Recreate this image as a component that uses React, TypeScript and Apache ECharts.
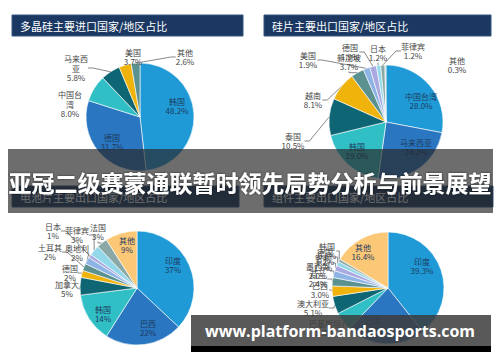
import React, { useEffect, useRef } from 'react';
import * as echarts from 'echarts';

// ---- texts ----
const panelTitles = [
  '多晶硅主要进口国家/地区占比',
  '硅片主要出口国家/地区占比',
  '电池片主要出口国家/地区占比',
  '组件主要出口国家/地区占比',
];
const bannerTitle = '亚冠二级赛蒙通联暂时领先局势分析与前景展望';
const watermarkText = 'www.platform-bandaosports.com';

// ---- data ----
const polyNames = ['韩国', '德国', '中国台湾', '马来西亚', '美国', '其他'];
const polyValues = [48.2, 31.7, 8.0, 5.8, 3.7, 2.6];

const waferNames = ['中国台湾', '马来西亚', '韩国', '泰国', '越南', '新加坡', '美国', '德国', '日本', '菲律宾', '其他'];
const waferValues = [28.0, 24.2, 19.0, 10.5, 8.1, 3.7, 1.9, 1.9, 1.2, 1.2, 0.3];

const cellNames = ['印度', '巴西', '韩国', '加拿大', '德国', '土耳其', '奥地利', '日本', '菲律宾', '法国', '其他'];
const cellValues = [37, 22, 14, 5, 2, 2, 2, 1, 3, 3, 9];

const moduleNames = ['印度', '日本', '巴基斯坦', '澳大利亚', '巴西', '荷兰', '墨西哥', '智利', '德国', '韩国', '其他'];
const moduleValues = [39.3, 22.9, 5.3, 5.1, 3.0, 2.4, 2.0, 1.6, 1.2, 0.8, 16.4];

// ---- label placement (layout only) ----
const polyLabelPos: Record<string, [number, number]> = {
  韩国: [177, 106], 德国: [112, 142], 中国台湾: [70, 104], 马来西亚: [76, 68], 美国: [133, 57], 其他: [185, 57],
};
const waferLabelPos: Record<string, [number, number]> = {
  中国台湾: [421, 101], 马来西亚: [416, 147], 韩国: [357, 151], 泰国: [293, 141], 越南: [313, 100],
  新加坡: [349, 62], 美国: [308, 60], 德国: [350, 52], 日本: [378, 53], 菲律宾: [413, 51], 其他: [457, 65],
};
const cellLabelPos: Record<string, [number, number]> = {
  印度: [173, 265], 巴西: [148, 328], 韩国: [103, 314], 其他: [127, 245], 加拿大: [67, 289], 德国: [70, 273],
  土耳其: [50, 252], 奥地利: [77, 253], 日本: [53, 231], 菲律宾: [77, 235], 法国: [98, 232],
};
const moduleLabelPos: Record<string, [number, number]> = {
  印度: [422, 266], 日本: [373, 325], 其他: [363, 252], 巴基斯坦: [325, 328], 澳大利亚: [313, 308],
  巴西: [320, 290], 荷兰: [318, 279], 墨西哥: [318, 271], 智利: [323, 263], 德国: [325, 257], 韩国: [327, 251],
};

// ---- styles ----
const LB = '#1f9ad6';
const MB = '#2a76c0';
const TC = '#31bfc6';
const DT = '#0e6675';
const YE = '#efb30c';
const GT = '#5b918f';
const PW = '#8db4e4';
const LV = '#aaa8e0';
const LC = '#93d8ea';
const GR = '#8aa9a6';
const PE = '#fbc878';
const GL = '#b5cfcc';

const FONT = '"Noto Sans CJK SC", "Noto Sans", sans-serif';

function wrap3(name: string) {
  if (name.length <= 3) return name;
  return name.slice(0, 3) + '\n' + name.slice(3);
}

function pieSeries(
  names: string[],
  values: number[],
  colors: string[],
  center: [number, number],
  radius: number,
  insideNames: string[],
  decimals: number,
  wrapOutside: boolean,
  labelPos: Record<string, [number, number]>,
  noLineNames: string[]
) {
  return {
    type: 'pie',
    center,
    radius,
    startAngle: 90,
    clockwise: true,
    avoidLabelOverlap: false,
    itemStyle: { borderColor: '#ffffff', borderWidth: 0.6 },
    labelLine: { length: 6, length2: 5, lineStyle: { color: '#6a6a6a', width: 0.8 } },
    label: {
      fontSize: 8,
      lineHeight: 9.5,
      fontFamily: FONT,
      color: '#454545',
    },
    labelLayout: (params: any) => {
      const p = labelPos[names[params.dataIndex]];
      if (!p) return {};
      return { x: p[0], y: p[1], align: 'center', verticalAlign: 'middle' };
    },
    data: names.map((n, i) => {
      const inside = insideNames.indexOf(n) >= 0;
      const pct = values[i].toFixed(decimals) + '%';
      const shownName = !inside && wrapOutside ? wrap3(n) : n;
      return {
        name: n,
        value: values[i],
        itemStyle: { color: colors[i] },
        label: inside
          ? { position: 'inside', color: '#1d3a5e', formatter: `${shownName}\n${pct}` }
          : { position: 'outside', formatter: `${shownName}\n${pct}` },
        labelLine: { show: !inside && noLineNames.indexOf(n) < 0 },
      };
    }),
  };
}

export default function App() {
  const ref = useRef<HTMLDivElement>(null);

  useEffect(() => {
    if (!ref.current) return;
    const chart = echarts.init(ref.current, undefined, { renderer: 'svg' });

    const titleBar = (x: number, y: number, w: number, text: string) => ({
      type: 'group',
      children: [
        {
          type: 'rect',
          shape: { x, y, width: w, height: 21 },
          style: { fill: '#1b3862', stroke: '#34547e', lineWidth: 1 },
        },
        {
          type: 'text',
          x: x + 8,
          y: y + 10.5,
          style: {
            text,
            fill: '#ffffff',
            fontSize: 11,
            fontFamily: FONT,
            verticalAlign: 'middle',
          },
        },
      ],
    });

    chart.setOption({
      animation: false,
      backgroundColor: '#ffffff',
      series: [
        pieSeries(polyNames, polyValues, [LB, MB, TC, DT, YE, GT], [140, 117], 54, ['韩国', '德国'], 1, true, polyLabelPos, ['中国台湾']),
        pieSeries(
          waferNames,
          waferValues,
          [LB, MB, TC, DT, YE, GT, PW, LV, LC, GR, GL],
          [386, 122],
          57,
          ['中国台湾', '马来西亚', '韩国'],
          1,
          false,
          waferLabelPos,
          ['其他']
        ),
        pieSeries(
          cellNames,
          cellValues,
          [LB, MB, TC, DT, YE, GT, PW, LV, LC, GR, PE],
          [137, 288],
          57,
          ['印度', '巴西', '韩国', '其他'],
          0,
          false,
          cellLabelPos,
          []
        ),
        pieSeries(
          moduleNames,
          moduleValues,
          [LB, MB, TC, DT, YE, GT, PW, LV, LC, GR, PE],
          [388, 288],
          56,
          ['印度', '日本', '其他'],
          1,
          false,
          moduleLabelPos,
          []
        ),
      ],
      graphic: [
        titleBar(12, 15, 231, panelTitles[0]),
        titleBar(264, 15, 227, panelTitles[1]),
        titleBar(12, 186, 227, panelTitles[2]),
        titleBar(264, 186, 229, panelTitles[3]),
        {
          type: 'rect',
          z: 20,
          shape: { x: 8, y: 149, width: 485, height: 64 },
          style: { fill: 'rgba(40,40,40,0.68)' },
        },
        {
          type: 'text',
          z: 21,
          x: 250,
          y: 182,
          style: {
            text: bannerTitle,
            fill: '#ffffff',
            fontSize: 23,
            fontWeight: 'bold',
            fontFamily: FONT,
            align: 'center',
            verticalAlign: 'middle',
            textShadowColor: 'rgba(0,0,0,0.6)',
            textShadowBlur: 2,
          },
        },
        {
          type: 'rect',
          z: 20,
          shape: { x: 191, y: 315, width: 300, height: 31 },
          style: { fill: 'rgba(60,60,60,0.85)' },
        },
        {
          type: 'rect',
          z: 20,
          shape: { x: 191, y: 346, width: 300, height: 6 },
          style: { fill: '#000000' },
        },
        {
          type: 'text',
          z: 21,
          x: 340,
          y: 331,
          style: {
            text: watermarkText,
            fill: '#ffffff',
            fontSize: 16,
            fontWeight: 'bold',
            fontFamily: '"Open Sans", "Noto Sans", sans-serif',
            align: 'center',
            verticalAlign: 'middle',
          },
        },
      ],
    });

    return () => chart.dispose();
  }, []);

  return (
    <div
      ref={ref}
      style={{ position: 'absolute', left: 0, top: 0, width: 500, height: 362, background: '#fff' }}
    />
  );
}
